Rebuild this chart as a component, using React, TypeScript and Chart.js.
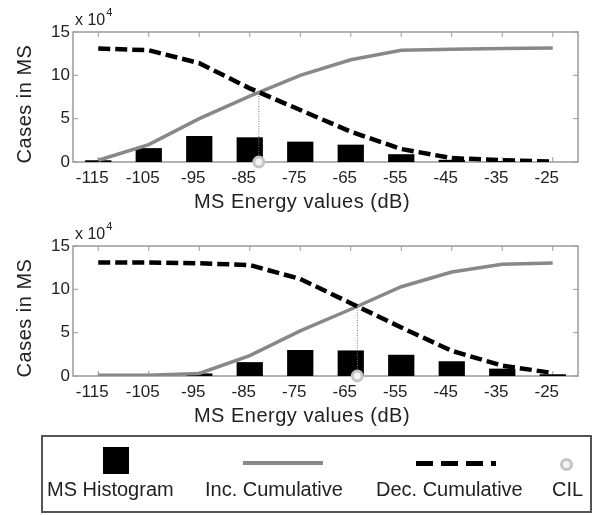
import React, { useEffect, useRef } from "react";
import { Chart, registerables } from "chart.js";
Chart.register(...registerables);

const FONT = '"Liberation Sans", Arial, Helvetica, sans-serif';
const TEXT = "#222";

const X_TICKS = [-115, -105, -95, -85, -75, -65, -55, -45, -35, -25];
const Y_TICKS = [0, 5, 10, 15];
const X_TITLE = "MS Energy values (dB)";
const Y_TITLE = "Cases in MS";

// Top panel (values in units of 1e4)
const HIST_TOP = [0.2, 1.6, 3.0, 2.85, 2.35, 2.0, 0.9, 0.25, 0.1, 0.0];
const INC_TOP = [0.2, 2.0, 5.0, 7.6, 10.0, 11.8, 12.9, 13.0, 13.1, 13.15];
const DEC_TOP = [13.1, 12.9, 11.4, 8.5, 6.0, 3.5, 1.5, 0.45, 0.2, 0.05];
const CIL_TOP = -83.2;
const CIL_TOP_LEVEL = 8.0;

// Bottom panel
const HIST_BOT = [0, 0, 0.3, 1.6, 3.0, 2.95, 2.45, 1.7, 0.85, 0.2];
const INC_BOT = [0.1, 0.1, 0.3, 2.35, 5.2, 7.7, 10.3, 12.0, 12.9, 13.05];
const DEC_BOT = [13.1, 13.1, 13.0, 12.8, 11.2, 8.4, 5.6, 2.9, 1.2, 0.35];
const CIL_BOT = -63.7;
const CIL_BOT_LEVEL = 8.0;

const LEGEND_LABELS = ["MS Histogram", "Inc. Cumulative", "Dec. Cumulative", "CIL"];

const framePlugin = {
  id: "frame",
  beforeDatasetsDraw(chart: any) {
    const { ctx, chartArea } = chart;
    const { left, right, top, bottom } = chartArea;
    const xs = chart.scales.x;
    const ys = chart.scales.y;
    ctx.save();
    ctx.strokeStyle = "#9a9a9a";
    ctx.lineWidth = 1.5;
    ctx.strokeRect(left, top, right - left, bottom - top);
    ctx.lineWidth = 1;
    const seg = (x1: number, y1: number, x2: number, y2: number) => {
      ctx.beginPath();
      ctx.moveTo(x1, y1);
      ctx.lineTo(x2, y2);
      ctx.stroke();
    };
    X_TICKS.forEach((v) => {
      const p = xs.getPixelForValue(v);
      seg(p, top, p, top + 5);
      seg(p, bottom, p, bottom - 5);
    });
    Y_TICKS.forEach((v) => {
      const p = ys.getPixelForValue(v);
      seg(left, p, left + 5, p);
      seg(right, p, right - 5, p);
    });
    ctx.restore();
  },
  afterDraw(chart: any) {
    const { ctx, chartArea } = chart;
    const { left, top, bottom } = chartArea;
    ctx.save();
    ctx.fillStyle = TEXT;
    // exponent label
    ctx.textBaseline = "alphabetic";
    ctx.textAlign = "left";
    ctx.font = `16px ${FONT}`;
    const base = "x 10";
    ctx.fillText(base, left + 2, top - 7);
    const w = ctx.measureText(base).width;
    ctx.font = `11px ${FONT}`;
    ctx.fillText("4", left + 3 + w, top - 16);
    // axis titles
    ctx.font = `20px ${FONT}`;
    try {
      (ctx as any).letterSpacing = "0.5px";
    } catch (e) {}
    ctx.textAlign = "center";
    ctx.textBaseline = "middle";
    ctx.fillText(X_TITLE, 302, bottom + 40);
    ctx.translate(25, (top + bottom) / 2 + 7);
    ctx.rotate(-Math.PI / 2);
    ctx.fillText(Y_TITLE, 0, 0);
    ctx.restore();
  },
};

function Panel(props: {
  top: number;
  hist: number[];
  inc: number[];
  dec: number[];
  cil: number;
  cilLevel: number;
}) {
  const ref = useRef<HTMLCanvasElement | null>(null);
  useEffect(() => {
    const { hist, inc, dec, cil, cilLevel } = props;
    const chart = new Chart(ref.current as HTMLCanvasElement, {
      type: "bar",
      data: {
        datasets: [
          {
            type: "line",
            label: "CIL",
            data: [{ x: cil, y: 0 }],
            showLine: false,
            pointRadius: 5,
            pointBorderWidth: 3,
            pointBorderColor: "#c4c4c4",
            pointBackgroundColor: "#f2f2f2",
            clip: false,
            order: 0,
          } as any,
          {
            type: "line",
            label: "CIL level",
            data: [
              { x: cil, y: 0 },
              { x: cil, y: cilLevel },
            ],
            borderColor: "#777",
            borderWidth: 1,
            borderDash: [1, 1.5],
            pointRadius: 0,
            order: 1,
          } as any,
          {
            type: "line",
            label: "Dec. Cumulative",
            data: X_TICKS.map((x, i) => ({ x, y: dec[i] })),
            borderColor: "#000",
            borderWidth: 4.5,
            borderDash: [12, 5],
            pointRadius: 0,
            tension: 0,
            order: 2,
          } as any,
          {
            type: "line",
            label: "Inc. Cumulative",
            data: X_TICKS.map((x, i) => ({ x, y: inc[i] })),
            borderColor: "#888",
            borderWidth: 3.5,
            pointRadius: 0,
            tension: 0,
            order: 3,
          } as any,
          {
            type: "bar",
            label: "MS Histogram",
            data: X_TICKS.map((x, i) => ({ x, y: hist[i] })),
            backgroundColor: "#000",
            barPercentage: 0.52,
            categoryPercentage: 1,
            order: 4,
          } as any,
        ],
      },
      options: {
        responsive: false,
        animation: false,
        devicePixelRatio: 1,
        events: [],
        layout: { padding: { top: 32, right: 17, left: 0, bottom: 0 } },
        plugins: { legend: { display: false }, tooltip: { enabled: false } },
        scales: {
          x: {
            type: "linear",
            min: -120,
            max: -20,
            offset: false,
            grid: { display: false, drawTicks: false, offset: false },
            border: { display: false },
            afterBuildTicks: (s: any) => {
              s.ticks = X_TICKS.map((v) => ({ value: v }));
            },
            afterFit: (s: any) => {
              s.height = 53;
            },
            ticks: {
              font: { family: FONT, size: 17 },
              color: TEXT,
              padding: 6,
              labelOffset: -6,
              maxRotation: 0,
              autoSkip: false,
              callback: (v: any) => String(v),
            },
            title: { display: false },
          },
          y: {
            min: 0,
            max: 15,
            grid: { display: false, drawTicks: false },
            border: { display: false },
            afterBuildTicks: (s: any) => {
              s.ticks = Y_TICKS.map((v) => ({ value: v }));
            },
            afterFit: (s: any) => {
              s.width = 73;
            },
            ticks: {
              font: { family: FONT, size: 17 },
              color: TEXT,
              padding: 3,
              callback: (v: any) => String(v),
            },
            title: { display: false },
          },
        },
      } as any,
      plugins: [framePlugin],
    });
    return () => chart.destroy();
  }, []);
  return (
    <canvas
      ref={ref}
      width={595}
      height={215}
      style={{ position: "absolute", left: 0, top: props.top, width: 595, height: 215, display: "block" }}
    />
  );
}

export default function App() {
  const textStyle = (left: number): React.CSSProperties => ({
    position: "absolute",
    left,
    top: 479,
    fontFamily: FONT,
    fontSize: 20,
    lineHeight: "20px",
    color: TEXT,
    whiteSpace: "nowrap",
  });
  return (
    <div style={{ position: "absolute", left: 0, top: 0, width: 595, height: 515, background: "#fff", overflow: "hidden" }}>
      <Panel top={0} hist={HIST_TOP} inc={INC_TOP} dec={DEC_TOP} cil={CIL_TOP} cilLevel={CIL_TOP_LEVEL} />
      <Panel top={214} hist={HIST_BOT} inc={INC_BOT} dec={DEC_BOT} cil={CIL_BOT} cilLevel={CIL_BOT_LEVEL} />
      <div
        style={{
          position: "absolute",
          left: 41,
          top: 435,
          width: 551,
          height: 78,
          border: "2px solid #555",
          boxSizing: "border-box",
        }}
      />
      <div style={{ position: "absolute", left: 103, top: 447, width: 26, height: 27, background: "#000" }} />
      <div style={{ position: "absolute", left: 243, top: 461, width: 80, height: 4, background: "#888" }} />
      <div
        style={{
          position: "absolute",
          left: 416,
          top: 461,
          width: 80,
          height: 5,
          background: "repeating-linear-gradient(to right, #000 0px, #000 17px, transparent 17px, transparent 25px)",
        }}
      />
      <div
        style={{
          position: "absolute",
          left: 560,
          top: 458,
          width: 7,
          height: 7,
          borderRadius: "50%",
          border: "3px solid #c4c4c4",
          background: "#f2f2f2",
        }}
      />
      <span style={textStyle(47)}>{LEGEND_LABELS[0]}</span>
      <span style={textStyle(205)}>{LEGEND_LABELS[1]}</span>
      <span style={textStyle(376)}>{LEGEND_LABELS[2]}</span>
      <span style={textStyle(552)}>{LEGEND_LABELS[3]}</span>
    </div>
  );
}
